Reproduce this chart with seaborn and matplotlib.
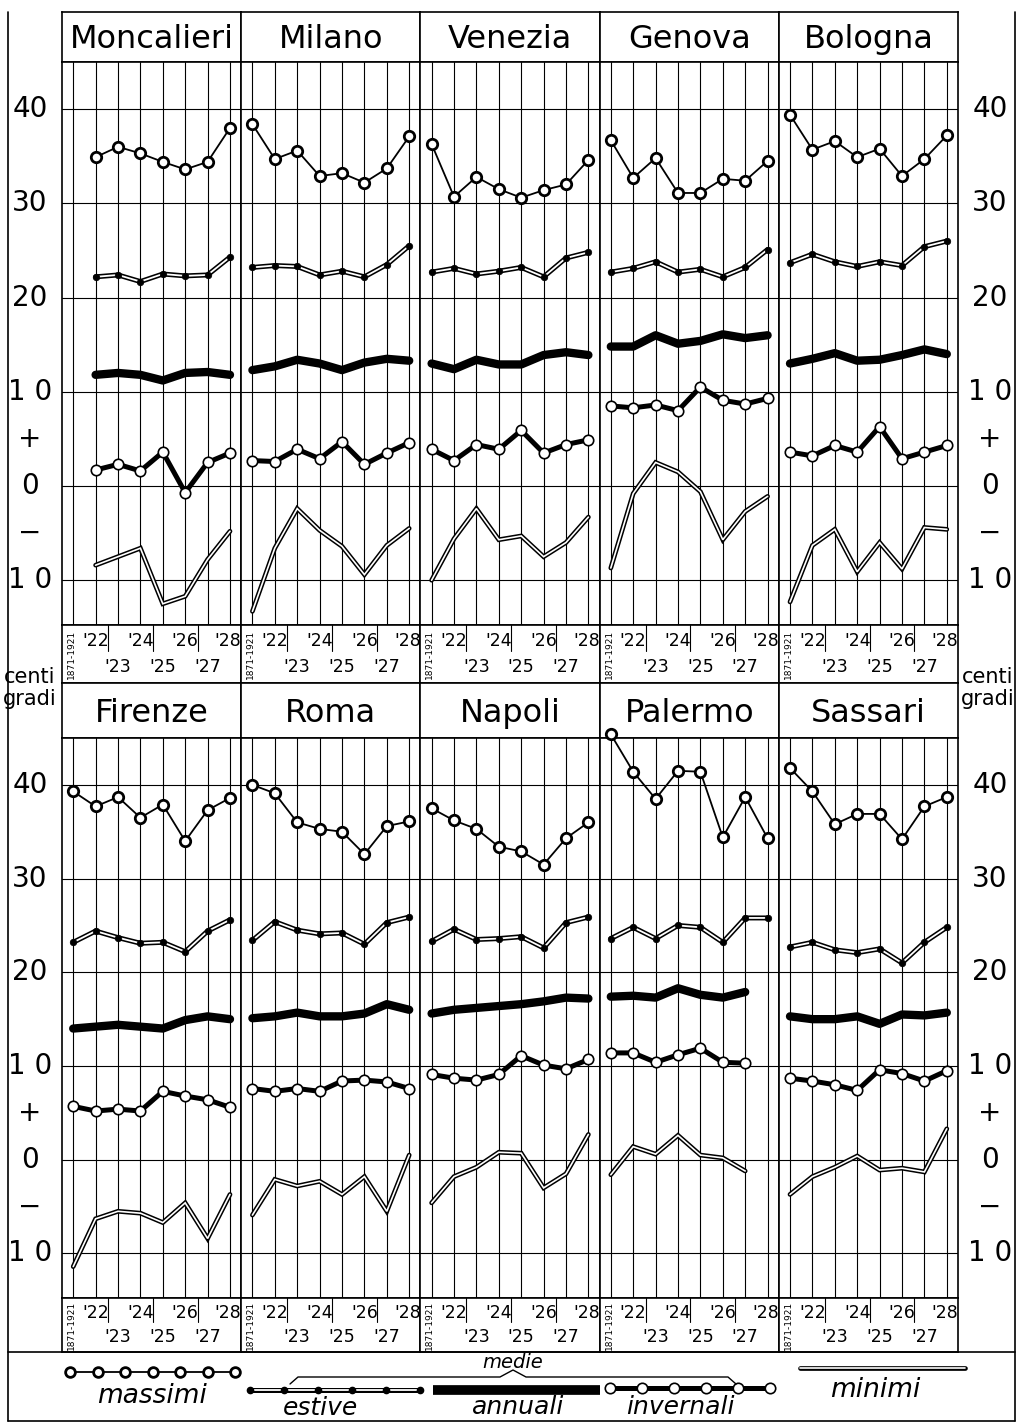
import numpy as np
import pandas as pd
import matplotlib
matplotlib.use("Agg")
import matplotlib.pyplot as plt
import seaborn as sns

# stations, in reading order (two rows of five)
cities = ["Moncalieri", "Milano", "Venezia", "Genova", "Bologna",
          "Firenze", "Roma", "Napoli", "Palermo", "Sassari"]
periods = ["1871-1921", "'22", "'23", "'24", "'25", "'26", "'27", "'28"]
y_labels = ["40", "30", "20", "1 0", "+", "0", "\u2212", "1 0"]
y_label_pos = [40, 30, 20, 10, 5, 0, -5, -10]

nan = np.nan
# temperature maxima (degrees C)
massimi = [
    [nan, 34.9, 36.0, 35.3, 34.4, 33.6, 34.4, 38.0],
    [38.4, 34.7, 35.6, 32.9, 33.2, 32.2, 33.7, 37.1],
    [36.3, 30.7, 32.8, 31.5, 30.6, 31.4, 32.0, 34.6],
    [36.7, 32.7, 34.8, 31.1, 31.1, 32.6, 32.4, 34.5],
    [39.4, 35.7, 36.6, 34.9, 35.8, 32.9, 34.7, 37.2],
    [39.3, 37.7, 38.7, 36.5, 37.9, 34.0, 37.3, 38.6],
    [40.0, 39.1, 36.0, 35.3, 35.0, 32.6, 35.6, 36.1],
    [37.5, 36.2, 35.3, 33.4, 32.9, 31.5, 34.3, 36.0],
    [45.4, 41.4, 38.5, 41.5, 41.4, 34.4, 38.7, 34.3],
    [41.8, 39.3, 35.8, 36.9, 36.9, 34.2, 37.7, 38.7],
]
# summer means
estive = [
    [nan, 22.2, 22.4, 21.7, 22.5, 22.3, 22.4, 24.3],
    [23.2, 23.4, 23.3, 22.4, 22.8, 22.2, 23.5, 25.5],
    [22.7, 23.1, 22.5, 22.8, 23.2, 22.2, 24.2, 24.8],
    [22.7, 23.1, 23.8, 22.7, 23.0, 22.2, 23.2, 25.1],
    [23.7, 24.6, 23.8, 23.3, 23.8, 23.4, 25.4, 26.0],
    [23.2, 24.4, 23.7, 23.1, 23.2, 22.2, 24.4, 25.6],
    [23.4, 25.4, 24.5, 24.1, 24.2, 23.0, 25.3, 25.9],
    [23.3, 24.6, 23.5, 23.6, 23.8, 22.6, 25.3, 25.9],
    [23.6, 24.8, 23.6, 25.0, 24.8, 23.2, 25.8, 25.8],
    [22.7, 23.2, 22.4, 22.1, 22.5, 21.0, 23.2, 24.8],
]
# annual means
annuali = [
    [nan, 11.8, 12.0, 11.8, 11.2, 12.0, 12.1, 11.8],
    [12.3, 12.7, 13.4, 13.0, 12.3, 13.1, 13.5, 13.3],
    [13.0, 12.4, 13.4, 12.9, 12.9, 13.9, 14.2, 13.9],
    [14.8, 14.8, 16.0, 15.1, 15.4, 16.1, 15.7, 16.0],
    [13.0, 13.5, 14.1, 13.3, 13.4, 13.9, 14.5, 14.0],
    [14.0, 14.2, 14.4, 14.2, 14.0, 14.9, 15.3, 15.0],
    [15.1, 15.3, 15.7, 15.3, 15.3, 15.6, 16.6, 16.0],
    [15.6, 16.0, 16.2, 16.4, 16.6, 16.9, 17.3, 17.2],
    [17.4, 17.5, 17.3, 18.3, 17.6, 17.3, 17.9, nan],
    [15.3, 15.0, 15.0, 15.3, 14.5, 15.5, 15.4, 15.7],
]
# winter means
invernali = [
    [nan, 1.7, 2.3, 1.6, 3.6, -0.7, 2.5, 3.5],
    [2.7, 2.6, 3.9, 2.9, 4.7, 2.3, 3.5, 4.6],
    [3.9, 2.7, 4.4, 3.9, 5.9, 3.5, 4.4, 4.9],
    [8.5, 8.3, 8.6, 8.0, 10.5, 9.1, 8.7, 9.3],
    [3.6, 3.2, 4.3, 3.6, 6.3, 2.9, 3.6, 4.3],
    [5.7, 5.2, 5.4, 5.2, 7.3, 6.8, 6.4, 5.6],
    [7.6, 7.3, 7.6, 7.3, 8.4, 8.5, 8.3, 7.6],
    [9.1, 8.7, 8.5, 9.1, 11.1, 10.1, 9.7, 10.7],
    [11.4, 11.4, 10.4, 11.2, 11.9, 10.4, 10.3, nan],
    [8.7, 8.4, 8.0, 7.4, 9.6, 9.2, 8.4, 9.5],
]
# temperature minima
minimi = [
    [nan, -8.4, -7.5, -6.6, -12.5, -11.7, -7.8, -4.8],
    [-13.3, -6.6, -2.4, -4.7, -6.4, -9.4, -6.3, -4.5],
    [-10.0, -5.6, -2.4, -5.7, -5.3, -7.5, -6.0, -3.3],
    [-8.7, -0.8, 2.5, 1.5, -0.6, -5.7, -2.7, -1.1],
    [-12.3, -6.3, -4.6, -9.1, -6.0, -8.8, -4.4, -4.6],
    [-11.4, -6.3, -5.5, -5.7, -6.7, -4.6, -8.4, -3.7],
    [-5.9, -2.1, -2.8, -2.3, -3.7, -1.8, -5.5, 0.5],
    [-4.6, -1.8, -0.8, 0.8, 0.7, -3.0, -1.5, 2.7],
    [-1.6, 1.4, 0.6, 2.6, 0.5, 0.2, -1.2, nan],
    [-3.7, -1.8, -0.8, 0.4, -1.1, -0.9, -1.3, 3.3],
]

W, H = 1021, 1423
YMIN, YMAX = -14.75, 45

sns.set_theme(style="white")
plt.rcParams["font.family"] = ["DejaVu Sans"]
plt.rcParams["text.color"] = "black"
fig = plt.figure(figsize=(W / 100, H / 100), dpi=100)


def box(x0, y0, x1, y1):
    # pixel box (from top-left) -> figure fraction rect
    return [x0 / W, 1 - y1 / H, (x1 - x0) / W, (y1 - y0) / H]


def series(vals):
    d = pd.DataFrame({"x": range(len(periods)), "y": vals})
    return d.dropna()


def double_line(ax, d, outer, inner):
    sns.lineplot(data=d, x="x", y="y", ax=ax, color="black", lw=outer,
                 estimator=None, sort=False, solid_joinstyle="miter")
    sns.lineplot(data=d, x="x", y="y", ax=ax, color="white", lw=inner,
                 estimator=None, sort=False, solid_joinstyle="miter")


rows = [dict(title=(12, 62), plot=(62, 625), band=(625, 683)),
        dict(title=(683, 738), plot=(738, 1298), band=(1298, 1352))]
x_edges = np.linspace(62, 958, 6)

for i, city in enumerate(cities):
    r, c = divmod(i, 5)
    L = rows[r]
    xl, xr = x_edges[c], x_edges[c + 1]

    # title box
    tax = fig.add_axes(box(xl, L["title"][0], xr, L["title"][1]))
    tax.set_xticks([]); tax.set_yticks([])
    for s in tax.spines.values():
        s.set_color("black"); s.set_linewidth(1.2)
    tax.text(0.5, 0.45, city, ha="center", va="center", fontsize=23)

    # plotting area
    ax = fig.add_axes(box(xl, L["plot"][0], xr, L["plot"][1]))
    ax.set_xlim(-0.5, 7.5)
    ax.set_ylim(YMIN, YMAX)
    ax.set_xticks(range(8))
    ax.set_yticks(range(-10, 41, 10))
    ax.grid(True, color="black", lw=0.8)
    ax.tick_params(length=0, labelbottom=False, labelleft=False)
    for s in ax.spines.values():
        s.set_color("black"); s.set_linewidth(1.2)

    d = series(massimi[i])
    sns.lineplot(data=d, x="x", y="y", ax=ax, color="black", lw=1.3,
                 marker="o", markersize=7.5, markerfacecolor="white",
                 markeredgecolor="black", markeredgewidth=2.0,
                 estimator=None, sort=False, clip_on=False, zorder=5)

    d = series(estive[i])
    double_line(ax, d, 3.6, 1.3)
    sns.scatterplot(data=d, x="x", y="y", ax=ax, color="black", s=22,
                    edgecolor="black", linewidth=0.5, zorder=4)

    d = series(annuali[i])
    sns.lineplot(data=d, x="x", y="y", ax=ax, color="black", lw=6,
                 estimator=None, sort=False)

    d = series(invernali[i])
    sns.lineplot(data=d, x="x", y="y", ax=ax, color="black", lw=3.6,
                 marker="o", markersize=7.5, markerfacecolor="white",
                 markeredgecolor="black", markeredgewidth=1.2,
                 estimator=None, sort=False)

    d = series(minimi[i])
    double_line(ax, d, 3.4, 1.2)
    ax.set(xlabel="", ylabel="")

    # year band under each panel
    bax = fig.add_axes(box(xl, L["band"][0], xr, L["band"][1]))
    bax.set_xlim(-0.5, 7.5)
    bax.set_ylim(1, 0)
    bax.set_xticks([]); bax.set_yticks([])
    for s in bax.spines.values():
        s.set_color("black"); s.set_linewidth(1.2)
    bax.text(-0.08, 0.5, periods[0], rotation=90, ha="center", va="center",
             fontsize=6.5)
    for k in range(1, 8):
        yy = 0.28 if k % 2 == 1 else 0.72
        xx = k if k < 7 else k - 0.08
        bax.text(xx, yy, periods[k], ha="center", va="center",
                 fontsize=12.5)
        if k % 2 == 0:
            bax.plot([k - 0.45, k - 0.45], [0, 0.45], color="black", lw=0.8)

    # degree scale at both sides
    if c == 0:
        p0, p1 = L["plot"]
        for lab, v in zip(y_labels, y_label_pos):
            ypix = p0 + (YMAX - v) / (YMAX - YMIN) * (p1 - p0)
            for xx in (30, 990):
                fig.text(xx / W, 1 - ypix / H, lab, ha="center", va="center",
                         fontsize=20)

# "centigradi" on both margins
for xx in (30, 988):
    fig.text(xx / W, 1 - 688 / H, "centi\ngradi", ha="center", va="center",
             fontsize=15, linespacing=1.1)

# outer frame
frame = fig.add_axes([0, 0, 1, 1], facecolor="none")
frame.set_xlim(0, W)
frame.set_ylim(H, 0)
frame.axis("off")
frame.plot([8, 8], [12, 1421], color="black", lw=1.2)
frame.plot([1015, 1015], [12, 1421], color="black", lw=1.2)
frame.plot([8, 1015], [1421, 1421], color="black", lw=1.2)
frame.plot([8, 1015], [1352, 1352], color="black", lw=1.2)

# legend band
lx = np.linspace(70, 235, 7)
frame.plot(lx, [1372] * 7, color="black", lw=1.3, marker="o", ms=7,
           mfc="white", mec="black", mew=2)
frame.text(152, 1396, "massimi", ha="center", va="center", fontsize=19,
           style="italic")

ex = np.linspace(250, 420, 6)
frame.plot(ex, [1390] * 6, color="black", lw=3.6)
frame.plot(ex, [1390] * 6, color="white", lw=1.3)
frame.plot(ex, [1390] * 6, ls="", marker="o", ms=4.5, color="black")
frame.text(320, 1408, "estive", ha="center", va="center", fontsize=18,
           style="italic")

frame.plot([433, 600], [1390, 1390], color="black", lw=7, solid_capstyle="butt")
frame.text(518, 1407, "annuali", ha="center", va="center", fontsize=18,
           style="italic")

ix = np.linspace(610, 770, 6)
frame.plot(ix, [1388] * 6, color="black", lw=3.6, marker="o", ms=7.5,
           mfc="white", mec="black", mew=1.2)
frame.text(680, 1407, "invernali", ha="center", va="center", fontsize=18,
           style="italic")

frame.plot([800, 965], [1368, 1368], color="black", lw=3.4)
frame.plot([800, 965], [1368, 1368], color="white", lw=1.2)
frame.text(875, 1390, "minimi", ha="center", va="center", fontsize=19,
           style="italic")

frame.text(513, 1362, "medie", ha="center", va="center", fontsize=14,
           style="italic")
bx = [290, 298, 500, 513, 526, 728, 736]
by = [1384, 1377, 1377, 1370, 1377, 1377, 1384]
frame.plot(bx, by, color="black", lw=1.0)

fig.savefig("out.png", dpi=100)
